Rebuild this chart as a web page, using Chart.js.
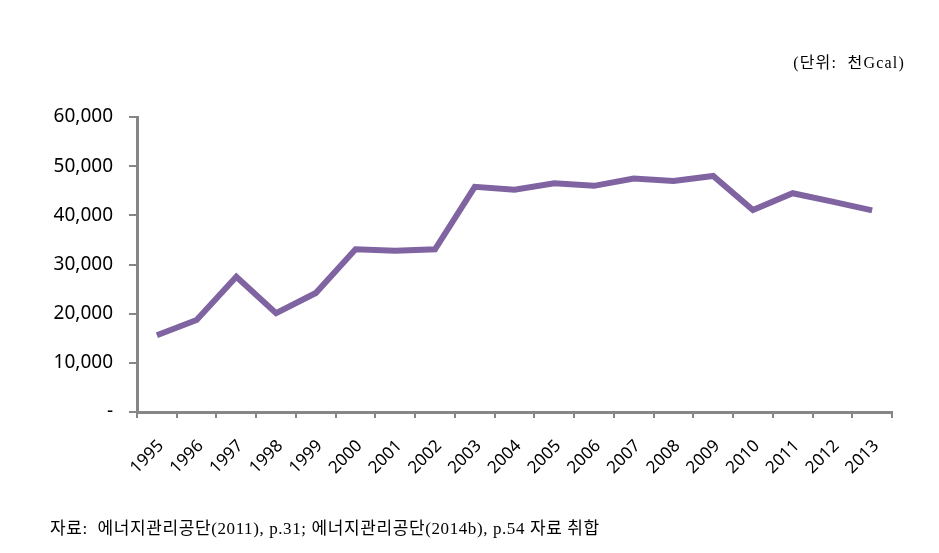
<!DOCTYPE html>
<html>
<head>
<meta charset="utf-8">
<script src="https://cdn.jsdelivr.net/npm/chart.js@4"></script>
<style>
  body { margin: 0; background: #fff; }
  #wrap { position: relative; width: 939px; height: 553px; }
  #unit { position: absolute; right: 34px; top: 49px; font: 16px "Liberation Serif", "Noto Sans CJK KR", serif; color: #000; letter-spacing: 1.2px; }
  #source { position: absolute; left: 50px; top: 514px; font: 17px "Liberation Serif", "Noto Sans CJK KR", serif; color: #000; letter-spacing: 0.6px; }
</style>
</head>
<body>
<div id="wrap">
  <canvas id="chart" width="939" height="553"></canvas>
  <div id="unit">(단위:&nbsp; 천Gcal)</div>
  <div id="source">자료:&nbsp; 에너지관리공단(2011), p.31; 에너지관리공단(2014b), p.54 자료 취합</div>
</div>
<script>
const years = ['1995', '1996', '1997', '1998', '1999', '2000', '2001', '2002', '2003', '2004',
               '2005', '2006', '2007', '2008', '2009', '2010', '2011', '2012', '2013'];
const heatValues = [15600, 18700, 27500, 20100, 24200, 33100, 32800, 33100, 45800, 45200,
                    46500, 46000, 47500, 47000, 48000, 41100, 44500, 42800, 41000];
const yTicks = [0, 10000, 20000, 30000, 40000, 50000, 60000];

const axisGray = '#868686';

new Chart(document.getElementById('chart'), {
    type: 'line',
    data: {
        labels: years,
        datasets: [{
            data: heatValues,
            borderColor: '#8064A2',
            borderWidth: 6,
            pointRadius: 0,
            tension: 0,
            fill: false
        }]
    },
    options: {
        responsive: false,
        animation: false,
        layout: { padding: { left: 0, top: 117, right: 47, bottom: 0 } },
        plugins: { legend: { display: false }, tooltip: { enabled: false } },
        scales: {
            x: {
                offset: true,
                afterFit: (scale) => { scale.height = 141; },
                grid: { offset: true, drawOnChartArea: false, color: axisGray, lineWidth: 2, tickLength: 6 },
                border: { color: axisGray, width: 3 },
                ticks: {
                    minRotation: 45, maxRotation: 45, color: '#000',
                    font: { family: 'Noto Sans', size: 17 }, padding: 18, labelOffset: 4
                }
            },
            y: {
                min: 0, max: 60000,
                afterFit: (scale) => { scale.width = 137; },
                afterBuildTicks: (scale) => { scale.ticks = yTicks.map(v => ({ value: v })); },
                grid: { drawOnChartArea: false, color: axisGray, lineWidth: 2, tickLength: 8 },
                border: { color: axisGray, width: 3 },
                ticks: {
                    color: '#000', padding: 16,
                    font: { family: 'Noto Sans', size: 19 },
                    callback: (v) => v === 0 ? '-' : v.toLocaleString('en-US')
                }
            }
        }
    }
});
</script>
</body>
</html>
